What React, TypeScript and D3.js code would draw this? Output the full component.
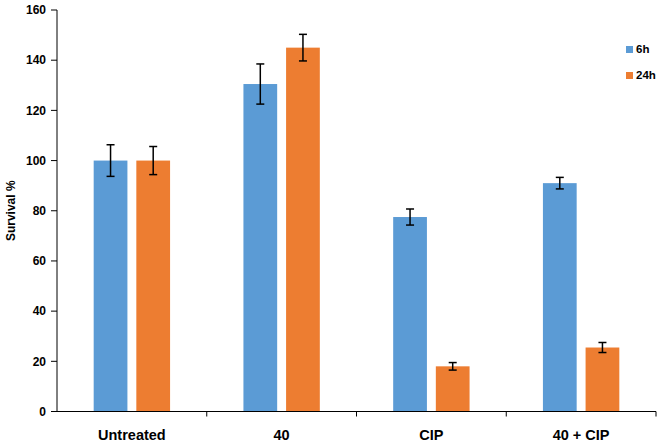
import React from "react";
import * as d3 from "d3";

const categories = ["Untreated", "40", "CIP", "40 + CIP"];
const seriesNames = ["6h", "24h"];
const values6h = [100, 130.5, 77.5, 91];
const values24h = [100, 145, 18, 25.5];
const err6h = [6.3, 8, 3.2, 2.3];
const err24h = [5.6, 5.3, 1.5, 2];
const yTicks = [0, 20, 40, 60, 80, 100, 120, 140, 160];
const colors = ["#5B9BD5", "#ED7D31"];

const W = 661;
const H = 444;
const left = 57;
const right = 656;
const top = 10;
const bottom = 411.5;

export default function App() {
  const x = d3.scaleBand<string>().domain(categories).range([left, right]).paddingInner(0).paddingOuter(0);
  const y = d3.scaleLinear().domain([0, 160]).range([bottom, top]);
  const xs = d3.scaleBand<string>().domain(seriesNames).range([0, x.bandwidth()]).paddingInner(0.209).paddingOuter(0.86);
  const data = [values6h, values24h];
  const errs = [err6h, err24h];
  const font = "'Liberation Sans', Arial, sans-serif";

  return (
    <svg width={W} height={H} style={{ position: "absolute", left: 0, top: 0, background: "#fff" }} fontFamily={font}>
      <rect x={0} y={0} width={W} height={H} fill="#fff" />
      {seriesNames.map((s, si) =>
        categories.map((c, ci) => {
          const v = data[si][ci];
          const e = errs[si][ci];
          const bx = (x(c) as number) + (xs(s) as number);
          const bw = xs.bandwidth();
          const cx = bx + bw / 2;
          return (
            <g key={s + c}>
              <rect x={bx} y={y(v)} width={bw} height={y(0) - y(v)} fill={colors[si]} />
              <line x1={cx} x2={cx} y1={y(v + e)} y2={y(v - e)} stroke="#000" strokeWidth={1.5} />
              <line x1={cx - 4} x2={cx + 4} y1={y(v + e)} y2={y(v + e)} stroke="#000" strokeWidth={1.5} />
              <line x1={cx - 4} x2={cx + 4} y1={y(v - e)} y2={y(v - e)} stroke="#000" strokeWidth={1.5} />
            </g>
          );
        })
      )}
      {/* y axis */}
      <line x1={left} x2={left} y1={top} y2={bottom} stroke="#000" strokeWidth={1} />
      {yTicks.map((t) => (
        <g key={t}>
          <line x1={left - 6} x2={left} y1={y(t)} y2={y(t)} stroke="#000" strokeWidth={1} />
          <text x={left - 11} y={y(t)} dy="0.35em" textAnchor="end" fontSize={12} fontWeight="bold" fill="#000">
            {t}
          </text>
        </g>
      ))}
      {/* x axis */}
      <line x1={left} x2={right} y1={bottom} y2={bottom} stroke="#000" strokeWidth={1} />
      {categories.map((c, i) => (
        <g key={c}>
          <line x1={(x(c) as number) + x.bandwidth()} x2={(x(c) as number) + x.bandwidth()} y1={bottom} y2={bottom + 5} stroke="#000" strokeWidth={1} />
          <text x={(x(c) as number) + x.bandwidth() / 2} y={440} textAnchor="middle" fontSize={14.5} fontWeight="bold" fill="#000">
            {c}
          </text>
        </g>
      ))}
      <text transform={`translate(15,${(top + bottom) / 2}) rotate(-90)`} textAnchor="middle" fontSize={12} fontWeight="bold" fill="#000">
        Survival %
      </text>
      {/* legend */}
      {seriesNames.map((s, i) => (
        <g key={s} transform={`translate(626,${46 + i * 26})`}>
          <rect x={0} y={0} width={7} height={7} fill={colors[i]} />
          <text x={10} y={7} fontSize={11.5} fontWeight="bold" fill="#000">
            {s}
          </text>
        </g>
      ))}
    </svg>
  );
}
